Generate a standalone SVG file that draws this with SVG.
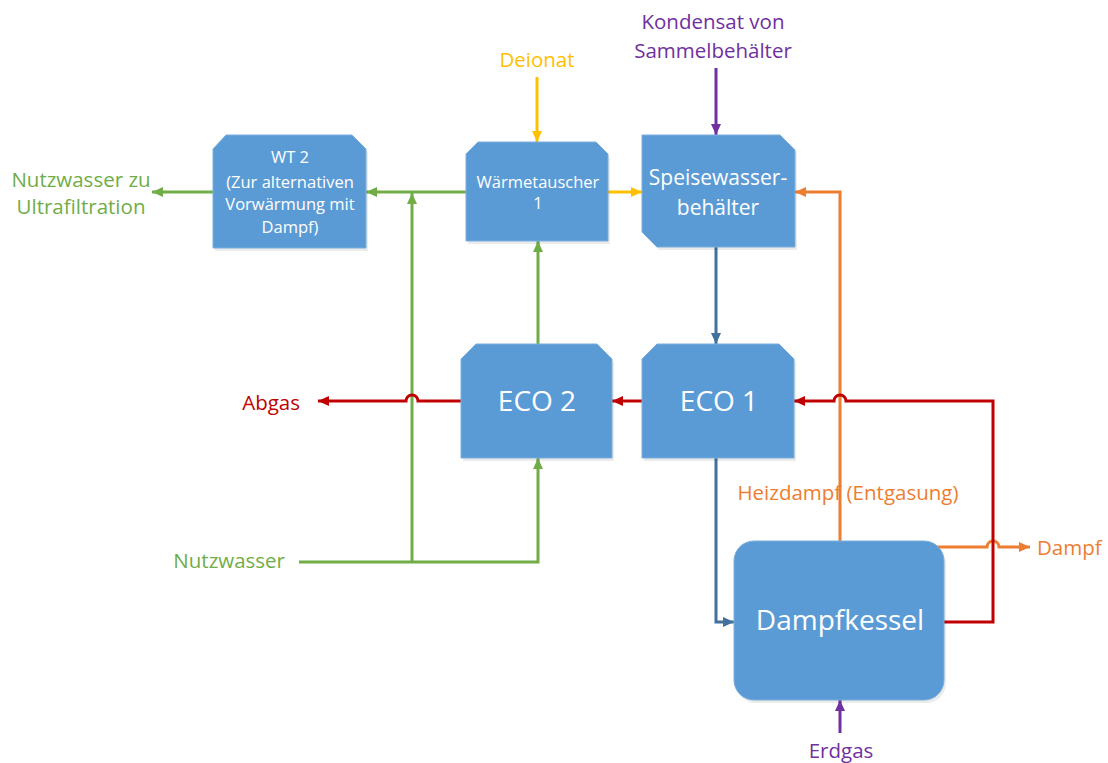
<svg xmlns="http://www.w3.org/2000/svg" width="1108" height="763" viewBox="0 0 1108 763">
  <defs>
    <style>
      text { font-family: "Open Sans", "Noto Sans", "Liberation Sans", sans-serif; }
      .box { fill: #5B9BD5; stroke: #7AAEDD; stroke-width: 1; }
      .shadow { fill: #000; opacity: 0.08; }
      .lbl { fill: #FFFFFF; text-anchor: middle; }
      .ln { fill: none; stroke-width: 3; stroke-linejoin: miter; }
      .green { stroke: #70AD47; }
      .yellow { stroke: #FFC000; }
      .purple { stroke: #7030A0; }
      .blue { stroke: #41719C; }
      .red { stroke: #C00000; }
      .orange { stroke: #ED7D31; }
    </style>
    <marker id="ah-green" markerUnits="userSpaceOnUse" markerWidth="12" markerHeight="12" viewBox="0 0 12 12" refX="11" refY="6" orient="auto">
      <path d="M0,1 L11,6 L0,11 Z" fill="#70AD47"/>
    </marker>
    <marker id="ah-yellow" markerUnits="userSpaceOnUse" markerWidth="12" markerHeight="12" viewBox="0 0 12 12" refX="11" refY="6" orient="auto">
      <path d="M0,1 L11,6 L0,11 Z" fill="#FFC000"/>
    </marker>
    <marker id="ah-purple" markerUnits="userSpaceOnUse" markerWidth="12" markerHeight="12" viewBox="0 0 12 12" refX="11" refY="6" orient="auto">
      <path d="M0,1 L11,6 L0,11 Z" fill="#7030A0"/>
    </marker>
    <marker id="ah-blue" markerUnits="userSpaceOnUse" markerWidth="12" markerHeight="12" viewBox="0 0 12 12" refX="11" refY="6" orient="auto">
      <path d="M0,1 L11,6 L0,11 Z" fill="#41719C"/>
    </marker>
    <marker id="ah-red" markerUnits="userSpaceOnUse" markerWidth="12" markerHeight="12" viewBox="0 0 12 12" refX="11" refY="6" orient="auto">
      <path d="M0,1 L11,6 L0,11 Z" fill="#C00000"/>
    </marker>
    <marker id="ah-orange" markerUnits="userSpaceOnUse" markerWidth="12" markerHeight="12" viewBox="0 0 12 12" refX="11" refY="6" orient="auto">
      <path d="M0,1 L11,6 L0,11 Z" fill="#ED7D31"/>
    </marker>
  </defs>

  <rect width="1108" height="763" fill="#FFFFFF"/>

  <!-- connectors -->
  <g id="connectors">
    <!-- water side -->
    <path class="ln green" d="M213,192 H152" marker-end="url(#ah-green)"/>
    <path class="ln green" d="M466,192 H366" marker-end="url(#ah-green)"/>
    <path class="ln green" d="M412,562 V193" marker-end="url(#ah-green)"/>
    <path class="ln green" d="M299,562 H538 V458" marker-end="url(#ah-green)"/>
    <path class="ln green" d="M538,344 V241" marker-end="url(#ah-green)"/>
    <path class="ln yellow" d="M537,77 V142" marker-end="url(#ah-yellow)"/>
    <path class="ln yellow" d="M608,192 H642" marker-end="url(#ah-yellow)"/>
    <path class="ln purple" d="M716,68 V135" marker-end="url(#ah-purple)"/>
    <path class="ln blue" d="M716,247 V344" marker-end="url(#ah-blue)"/>
    <path class="ln blue" d="M716,458 V622 H734" marker-end="url(#ah-blue)"/>
    <path class="ln purple" d="M840,733 V700" marker-end="url(#ah-purple)"/>
    <!-- steam side -->
    <path class="ln orange" d="M840,541 V192 H795" marker-end="url(#ah-orange)"/>
    <path class="ln orange" d="M936,547 H987 A6,6 0 0 1 999,547 H1030" marker-end="url(#ah-orange)"/>
    <!-- flue gas -->
    <path class="ln red" d="M944,622 H993 V401 H846 A6,6 0 0 0 834,401 H794" marker-end="url(#ah-red)"/>
    <path class="ln red" d="M642,401 H612" marker-end="url(#ah-red)"/>
    <path class="ln red" d="M461,401 H418 A6,6 0 0 0 406,401 H318" marker-end="url(#ah-red)"/>
  </g>

  <!-- WT 2 -->
  <g id="wt2">
    <path class="shadow" d="M226,138 H354 L368,152 V251 H215 V152 Z"/>
    <path class="box" d="M226,135 H352 L366,149 V248 H213 V149 Z"/>
    <text class="lbl" x="290" y="163" font-size="16.5">WT 2</text>
    <text class="lbl" x="290" y="188" font-size="16.5">(Zur alternativen</text>
    <text class="lbl" x="290" y="210" font-size="16.5">Vorwärmung mit</text>
    <text class="lbl" x="290" y="233" font-size="16.5">Dampf)</text>
  </g>

  <!-- Wärmetauscher 1 -->
  <g id="waermetauscher1">
    <path class="shadow" d="M479,145 H597 L610,158 V244 H468 V158 Z"/>
    <path class="box" d="M478,142 H596 L608,154 V241 H466 V154 Z"/>
    <text class="lbl" x="538" y="188" font-size="16.5">Wärmetauscher</text>
    <text class="lbl" x="538" y="209" font-size="16.5">1</text>
  </g>

  <!-- Speisewasserbehälter -->
  <g id="speisewasserbehaelter">
    <path class="shadow" d="M644,138 H782 L797,153 V250 H659 L644,235 Z"/>
    <path class="box" d="M642,135 H780 L795,150 V247 H657 L642,232 Z"/>
    <text class="lbl" x="718" y="185" font-size="21">Speisewasser-</text>
    <text class="lbl" x="718" y="215" font-size="21">behälter</text>
  </g>

  <!-- ECO 2 -->
  <g id="eco2">
    <path class="shadow" d="M478,347 H599 L614,362 V461 H463 V362 Z"/>
    <path class="box" d="M476,344 H597 L612,359 V458 H461 V359 Z"/>
    <text class="lbl" x="537" y="411" font-size="28">ECO 2</text>
  </g>

  <!-- ECO 1 -->
  <g id="eco1">
    <path class="shadow" d="M659,347 H781 L796,362 V461 H644 V362 Z"/>
    <path class="box" d="M657,344 H779 L794,359 V458 H642 V359 Z"/>
    <text class="lbl" x="719" y="411" font-size="28">ECO 1</text>
  </g>

  <!-- Dampfkessel -->
  <g id="dampfkessel">
    <rect class="shadow" x="736" y="544" width="210" height="159" rx="20"/>
    <rect class="box" x="734" y="541" width="210" height="159" rx="20"/>
    <text class="lbl" x="840" y="630" font-size="28">Dampfkessel</text>
  </g>

  <!-- stream labels -->
  <g id="labels" font-size="20.5">
    <text x="81" y="187" fill="#70AD47" text-anchor="middle">Nutzwasser zu</text>
    <text x="81" y="214" fill="#70AD47" text-anchor="middle">Ultrafiltration</text>
    <text x="537" y="67" fill="#FFC000" text-anchor="middle">Deionat</text>
    <text x="713" y="29" fill="#7030A0" text-anchor="middle">Kondensat von</text>
    <text x="713" y="58" fill="#7030A0" text-anchor="middle">Sammelbehälter</text>
    <text x="300" y="410" fill="#C00000" text-anchor="end">Abgas</text>
    <text x="848" y="500" fill="#ED7D31" text-anchor="middle">Heizdampf (Entgasung)</text>
    <text x="285" y="568" fill="#70AD47" text-anchor="end">Nutzwasser</text>
    <text x="1037" y="555" fill="#ED7D31">Dampf</text>
    <text x="841" y="758" fill="#7030A0" text-anchor="middle">Erdgas</text>
  </g>
</svg>
